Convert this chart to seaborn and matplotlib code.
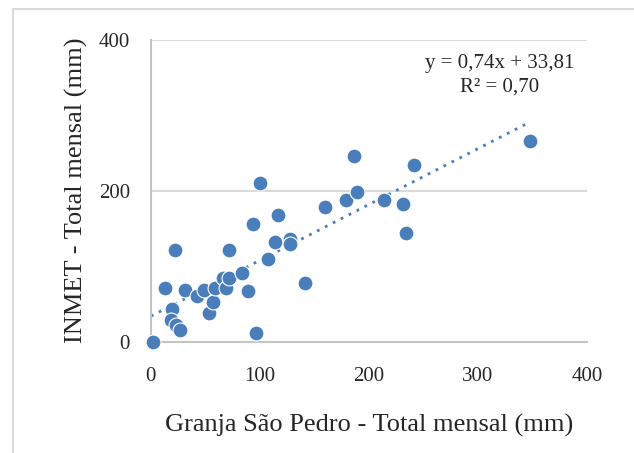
import numpy as np
import pandas as pd
import seaborn as sns
import matplotlib.pyplot as plt
from matplotlib.patches import Rectangle

# Granja São Pedro (x) vs INMET (y), monthly totals in mm
granja = [2, 22, 13, 31, 19, 18, 23, 27, 42, 49, 53, 57, 59, 66, 69, 72, 72,
          84, 89, 94, 96, 100, 107, 114, 117, 128, 128, 141, 160, 179, 186,
          189, 214, 231, 234, 241, 348]
inmet = [0, 122, 71, 68, 43, 29, 22, 15, 60, 68, 38, 53, 71, 85, 71, 84, 122,
         91, 67, 156, 12, 210, 110, 132, 168, 136, 130, 78, 178, 188, 246,
         198, 188, 183, 144, 234, 266]

slope = 0.74
intercept = 33.81
r2 = 0.70

df = pd.DataFrame({"granja": granja, "inmet": inmet})

sns.set_style("white")
plt.rcParams['font.family'] = ['Liberation Serif', 'DejaVu Serif']

fig = plt.figure(figsize=(6.34, 4.53), dpi=100)
ax = fig.add_axes([0.238, 0.2457, 0.688, 0.6665])

color = "#4a7ebb"
sns.scatterplot(data=df, x="granja", y="inmet", ax=ax, s=115, color=color,
                edgecolor="white", linewidth=0.8, zorder=3, clip_on=False)

# trend line from Excel equation
xs = np.linspace(0, 345, 50)
ax.plot(xs, slope * xs + intercept, linestyle=(0, (1, 2.2)), color=color,
        linewidth=2, zorder=2)

ax.text(320, 369, "y = 0,74x + 33,81", ha="center", va="center", fontsize=15)
ax.text(320, 338, "R² = 0,70", ha="center", va="center", fontsize=15)

ax.set_xlim(0, 400)
ax.set_ylim(0, 400)
ax.set_xticks([0, 100, 200, 300, 400])
ax.set_yticks([0, 200, 400])
ax.yaxis.grid(True, color="#d9d9d9", linewidth=1.5)
ax.set_axisbelow(True)
for s in ["top", "right"]:
    ax.spines[s].set_visible(False)
for s in ["left", "bottom"]:
    ax.spines[s].set_color("#c4c4c4")
    ax.spines[s].set_linewidth(1.5)
ax.tick_params(axis="x", length=0, labelsize=15, pad=18)
ax.tick_params(axis="y", length=0, labelsize=15, pad=15)
ax.set_xlabel("Granja São Pedro - Total mensal (mm)", fontsize=19, labelpad=20)
ax.set_ylabel("INMET - Total mensal (mm)", fontsize=19, labelpad=8)

# chart border
fig.patches.append(Rectangle((0.0205, -0.1), 1.1, 1.08, transform=fig.transFigure,
                             fill=False, edgecolor="#d9d9d9", linewidth=1.5))

fig.savefig("out.png", dpi=100)
